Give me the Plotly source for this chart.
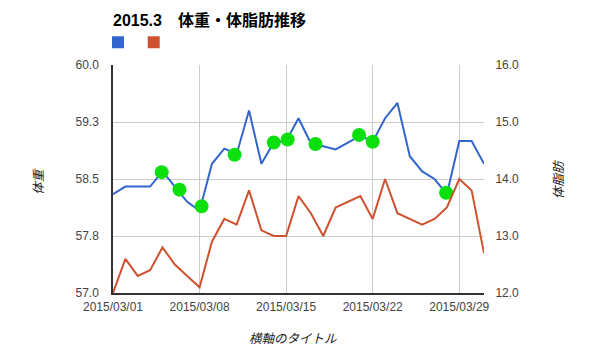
import pandas as pd
import plotly.graph_objects as go

# ---- data ----
dates = pd.date_range("2015-03-01", "2015-03-31").strftime("%Y-%m-%d").tolist()
weight = [58.3, 58.4, 58.4, 58.4, 58.6, 58.4, 58.2, 58.08, 58.7, 58.9, 58.83,
          59.4, 58.7, 58.98, 59.0, 59.3, 58.97, 58.93, 58.89, 58.98, 59.07,
          58.99, 59.3, 59.5, 58.8, 58.6, 58.5, 58.3, 59.0, 59.0, 58.7]
fat = [12.0, 12.6, 12.3, 12.4, 12.8, 12.5, 12.3, 12.1, 12.9, 13.3, 13.2,
       13.8, 13.1, 13.0, 13.0, 13.7, 13.4, 13.0, 13.5, 13.6, 13.7,
       13.3, 14.0, 13.4, 13.3, 13.2, 13.3, 13.5, 14.0, 13.8, 12.7]
mark_x = ["2015-03-04 22:30", "2015-03-06 09:00", "2015-03-08 04:00",
          "2015-03-10 20:00", "2015-03-14 00:00", "2015-03-15 03:00",
          "2015-03-17 09:00", "2015-03-20 21:30", "2015-03-22 00:00",
          "2015-03-27 22:30"]
mark_y = [58.59, 58.36, 58.14, 58.82, 58.98, 59.02, 58.96, 59.08, 58.99, 58.32]

x_ticks = ["2015-03-01", "2015-03-08", "2015-03-15", "2015-03-22", "2015-03-29"]
x_ticklabels = ["2015/03/01", "2015/03/08", "2015/03/15", "2015/03/22", "2015/03/29"]
y1_ticks = [57.0, 57.75, 58.5, 59.25, 60.0]
y1_ticklabels = ["57.0", "57.8", "58.5", "59.3", "60.0"]
y2_ticks = [12, 13, 14, 15, 16]
y2_ticklabels = ["12.0", "13.0", "14.0", "15.0", "16.0"]

title_text = "2015.3\u3000体重・体脂肪推移"
x_title = "横軸のタイトル"
y1_title = "体重"
y2_title = "体脂肪"

BLUE = "#3366cc"
RED = "#cf5230"
GREEN = "#0ce00c"
FONT = "Liberation Sans, Noto Sans CJK JP, sans-serif"

fig = go.Figure()
fig.add_trace(go.Scatter(x=dates, y=weight, mode="lines",
                         line=dict(color=BLUE, width=2), showlegend=False))
fig.add_trace(go.Scatter(x=dates, y=fat, mode="lines", yaxis="y2",
                         line=dict(color=RED, width=2), showlegend=False))
fig.add_trace(go.Scatter(x=mark_x, y=mark_y, mode="markers",
                         marker=dict(color=GREEN, size=14, line=dict(width=0)),
                         showlegend=False))
# legend entries (colour swatches only)
fig.add_trace(go.Scatter(x=[None], y=[None], mode="markers", name="",
                         legend="legend",
                         marker=dict(symbol="square", color=BLUE, size=12)))
fig.add_trace(go.Scatter(x=[None], y=[None], mode="markers", name="",
                         legend="legend2",
                         marker=dict(symbol="square", color=RED, size=12)))

leg_common = dict(orientation="h", xanchor="left", yanchor="top", y=1.163,
                  itemwidth=30, font=dict(size=1), bgcolor="rgba(0,0,0,0)")

fig.update_layout(
    width=598, height=364,
    margin=dict(l=113, r=114, t=65, b=71),
    paper_bgcolor="white", plot_bgcolor="white",
    font=dict(family=FONT, size=12, color="#444"),
    title=dict(text=title_text, x=0, xref="paper", xanchor="left",
               y=1 - 20 / 364, yref="container", yanchor="middle",
               font=dict(family=FONT, size=16, color="#000", weight="bold")),
    showlegend=True,
    legend=dict(x=(119.3 - 21 - 113.3) / 370.7, **leg_common),
    legend2=dict(x=(155.0 - 21 - 113.3) / 370.7, **leg_common),
    xaxis=dict(type="date", range=["2015-03-01", "2015-03-31"],
               tickvals=x_ticks, ticktext=x_ticklabels,
               showgrid=True, gridcolor="#cccccc", gridwidth=1,
               showline=True, linecolor="#333", linewidth=1.5,
               ticks="outside", ticklen=2, tickcolor="rgba(0,0,0,0)",
               tickfont=dict(size=12, color="#444"), zeroline=False),
    yaxis=dict(range=[57, 60], tickvals=y1_ticks, ticktext=y1_ticklabels,
               showgrid=True, gridcolor="#cccccc", gridwidth=1,
               showline=True, linecolor="#333", linewidth=1.5,
               ticks="outside", ticklen=10, tickcolor="rgba(0,0,0,0)",
               tickfont=dict(size=12, color="#444"), zeroline=False),
    yaxis2=dict(range=[12, 16], tickvals=y2_ticks, ticktext=y2_ticklabels,
                overlaying="y", side="right", showgrid=False,
                showline=False, ticks="outside", ticklen=8,
                tickcolor="rgba(0,0,0,0)",
                tickfont=dict(size=12, color="#444"), zeroline=False),
    annotations=[
        dict(text=x_title, xref="paper", yref="paper", x=0.484, y=(293 - 339) / 228,
             showarrow=False, xanchor="center", yanchor="middle",
             font=dict(family=FONT, size=12.5, color="#222", style="italic")),
        dict(text=y1_title, xref="paper", yref="paper", x=(39 - 113.3) / 370.7,
             y=(293 - 181) / 228, textangle=-90, showarrow=False,
             xanchor="center", yanchor="middle",
             font=dict(family=FONT, size=12.5, color="#222", style="italic")),
        dict(text=y2_title, xref="paper", yref="paper", x=(559 - 113.3) / 370.7,
             y=(293 - 179) / 228, textangle=-90, showarrow=False,
             xanchor="center", yanchor="middle",
             font=dict(family=FONT, size=12.5, color="#222", style="italic")),
    ],
)

fig.write_html("out.html", config={"displayModeBar": False},
               post_script="document.body.style.margin='0';")
